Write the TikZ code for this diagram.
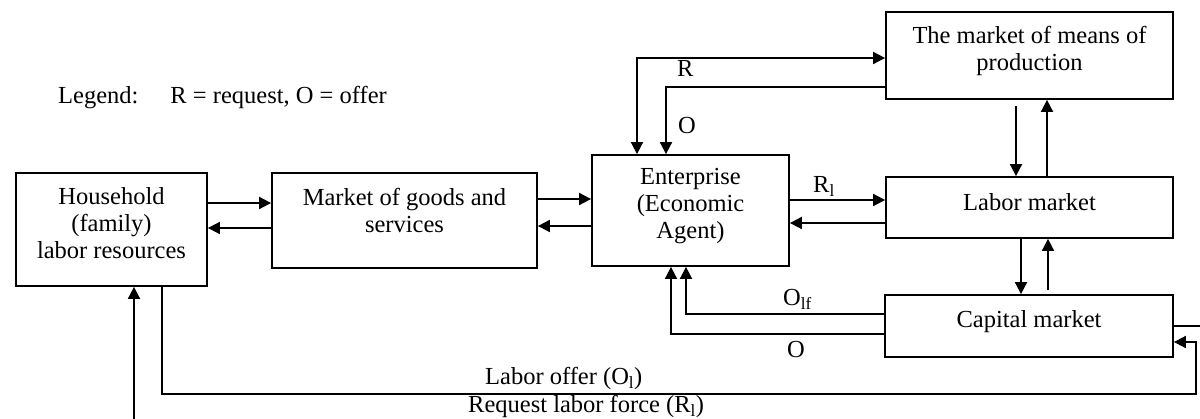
\documentclass[tikz,border=0pt]{standalone}
\usepackage{fontspec}
\setmainfont{Liberation Serif}
\usetikzlibrary{arrows.meta}
\begin{document}
\begin{tikzpicture}[x=1pt,y=-1pt,
  every node/.style={font=\fontsize{24.5}{27}\selectfont},
  box/.style={draw, line width=1.8pt, rectangle, inner sep=0pt},
  txt/.style={align=center, inner sep=0pt},
  ln/.style={line width=1.8pt},
  arr/.style={line width=1.8pt, -{Triangle[length=12pt,width=12pt]}},
  darr/.style={line width=1.8pt, {Triangle[length=12pt,width=12pt]}-{Triangle[length=12pt,width=12pt]}},
  lbl/.style={anchor=base west, inner sep=0pt}]
\clip (0,0) rectangle (1200,419);
% boxes
\node[box, minimum width=191pt, minimum height=113pt] (hh) at (111.5,229.5) {};
\node[txt] (hhT) at (111.5,223) {Household\\(family)\\labor resources};
\node[box, minimum width=265pt, minimum height=95pt] (goods) at (404.5,220.5) {};
\node[txt] (goodsT) at (404.5,210) {Market of goods and\\services};
\node[box, minimum width=197pt, minimum height=111pt] (ent) at (690.5,210.5) {};
\node[txt] (entT) at (690.5,206) {Enterprise\\(Economic\\Agent)};
\node[box, minimum width=287pt, minimum height=87pt] (means) at (1029.5,55.5) {};
\node[txt] (meansT) at (1029.5,51) {The market of means of\\production};
\node[box, minimum width=287pt, minimum height=61pt] (lab) at (1029.5,207.5) {};
\node[txt] (labT) at (1029.5,202) {Labor market};
\node[box, minimum width=288pt, minimum height=62pt] (cap) at (1029,326) {};
\node[txt] (capT) at (1029,322) {Capital market};
% legend
\node[lbl] (legend) at (58,104) {Legend:\hspace{32pt}R = request, O = offer};
% household <-> goods
\draw[arr] (hh.east |- 0,203) -- (goods.west |- 0,203);
\draw[arr] (goods.west |- 0,228) -- (hh.east |- 0,228);
% goods <-> enterprise
\draw[arr] (goods.east |- 0,199) -- (ent.west |- 0,199);
\draw[arr] (ent.west |- 0,226) -- (goods.east |- 0,226);
% enterprise <-> labor
\draw[arr] (ent.east |- 0,200) -- (lab.west |- 0,200);
\draw[arr] (lab.west |- 0,223) -- (ent.east |- 0,223);
\node[lbl] (lRl) at (813,193) {R\textsubscript{l}};
% enterprise <-> means
\draw[darr] (ent.north -| 637,0) -- (637,58) -- (means.west |- 0,58);
\draw[arr] (means.west |- 0,87) -- (666,87) -- (ent.north -| 666,0);
\node[lbl] (lR) at (677,77) {R};
\node[lbl] (lO) at (678,134) {O};
% means <-> labor
\draw[arr, shorten <=6pt] (means.south -| 1016,0) -- (lab.north -| 1016,0);
\draw[arr] (lab.north -| 1047,0) -- (means.south -| 1047,0);
% labor <-> capital
\draw[arr] (lab.south -| 1021,0) -- (cap.north -| 1021,0);
\draw[arr, shorten <=4pt] (cap.north -| 1048,0) -- (lab.south -| 1048,0);
% capital -> enterprise
\draw[arr] (cap.west |- 0,314) -- (686,314) -- (ent.south -| 686,0);
\draw[arr] (cap.west |- 0,334) -- (671,334) -- (ent.south -| 671,0);
\node[lbl] (lOlf) at (783,306) {O\textsubscript{lf}};
\node[lbl] (lO2) at (787,358) {O};
% household -> capital (labor offer)
\draw[arr] (hh.south -| 162,0) -- (162,394) -- (1196,394) -- (1196,342) -- (cap.east |- 0,342);
\node[lbl] (lOl) at (485,385) {Labor offer (O\textsubscript{l})};
% capital -> household (request labor force)
\draw[arr] (cap.east |- 0,326) -- (1230,326) -- (1230,440) -- (134,440) -- (hh.south -| 134,0);
\node[lbl] (lReq) at (468,413) {Request labor force (R\textsubscript{l})};
\end{tikzpicture}
\end{document}
